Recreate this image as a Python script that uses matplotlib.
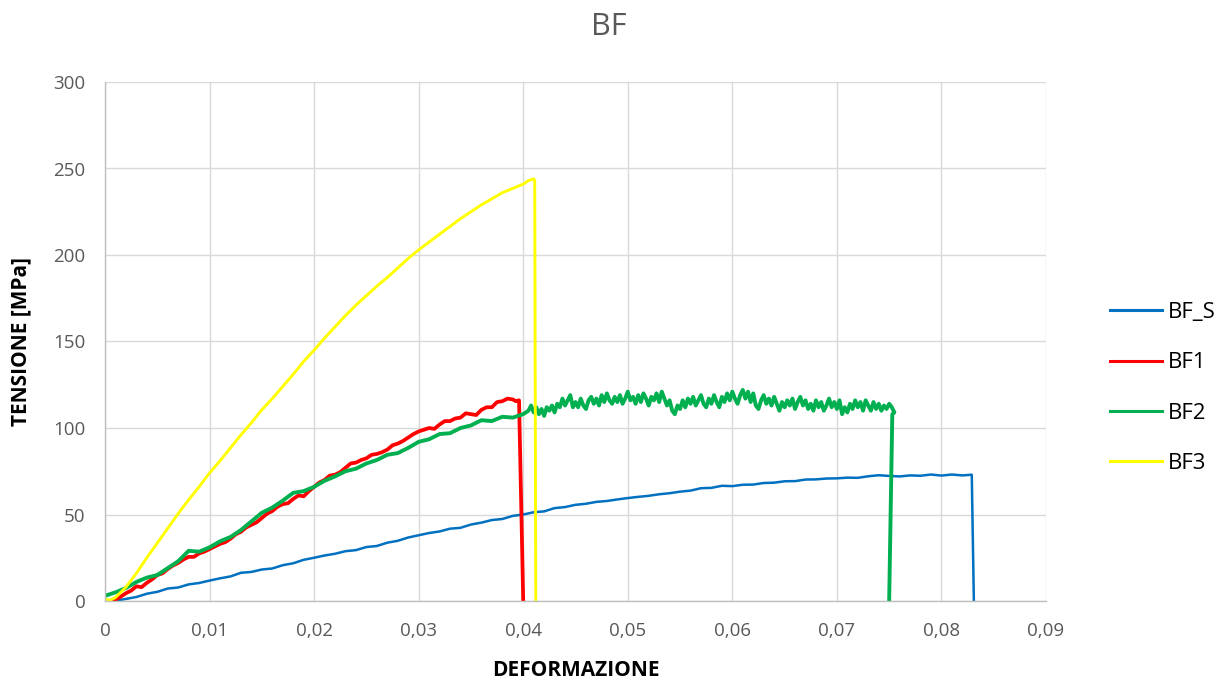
import matplotlib
matplotlib.use("Agg")
import matplotlib.pyplot as plt
from matplotlib.ticker import FuncFormatter

plt.rcParams['font.family'] = ['Open Sans', 'DejaVu Sans']

# ---------------- data ----------------
x_bfs = [0.0008, 0.002, 0.003, 0.004, 0.005, 0.006, 0.007, 0.008, 0.009, 0.010,
         0.011, 0.012, 0.013, 0.014, 0.015, 0.016, 0.017, 0.018, 0.019, 0.020,
         0.021, 0.022, 0.023, 0.024, 0.025, 0.026, 0.027, 0.028, 0.029, 0.030,
         0.031, 0.032, 0.033, 0.034, 0.035, 0.036, 0.037, 0.038, 0.039, 0.040,
         0.041, 0.042, 0.043, 0.044, 0.045, 0.046, 0.047, 0.048, 0.049, 0.050,
         0.051, 0.052, 0.053, 0.054, 0.055, 0.056, 0.057, 0.058, 0.059, 0.060,
         0.061, 0.062, 0.063, 0.064, 0.065, 0.066, 0.067, 0.068, 0.069, 0.070,
         0.071, 0.072, 0.073, 0.074, 0.075, 0.076, 0.077, 0.078, 0.079, 0.080,
         0.081, 0.082, 0.0829, 0.0831]
y_bfs = [0, 1.2, 2.3, 4.2, 5.3, 7.2, 7.8, 9.6, 10.4, 11.8,
         13.1, 14.2, 16.3, 16.8, 18.2, 18.8, 20.7, 21.8, 23.8, 25.0,
         26.3, 27.3, 28.8, 29.4, 31.2, 31.8, 33.7, 34.8, 36.7, 38.0,
         39.3, 40.2, 41.8, 42.3, 44.2, 45.3, 46.8, 47.4, 49.2, 50.0,
         51.3, 51.8, 53.7, 54.3, 55.6, 56.2, 57.3, 57.8, 58.7, 59.5,
         60.2, 60.8, 61.7, 62.3, 63.2, 63.8, 65.2, 65.4, 66.6, 66.4,
         67.2, 67.3, 68.2, 68.4, 69.2, 69.3, 70.2, 70.3, 70.8, 70.9,
         71.3, 71.2, 72.1, 72.7, 72.3, 72.0, 72.6, 72.4, 73.1, 72.5,
         73.1, 72.6, 73.0, 0]

x_bf1 = [0.0008, 0.0015, 0.002, 0.0025, 0.003, 0.0035, 0.004, 0.0045, 0.005, 0.0055,
         0.006, 0.0065, 0.007, 0.0075, 0.008, 0.0085, 0.009, 0.0095, 0.010, 0.0105,
         0.011, 0.0115, 0.012, 0.0125, 0.013, 0.0135, 0.014, 0.0145, 0.015, 0.0155,
         0.016, 0.0165, 0.017, 0.0175, 0.018, 0.0185, 0.019, 0.0195, 0.020, 0.0205,
         0.021, 0.0215, 0.022, 0.0225, 0.023, 0.0235, 0.024, 0.0245, 0.025, 0.0255,
         0.026, 0.0265, 0.027, 0.0275, 0.028, 0.0285, 0.029, 0.0295, 0.030, 0.0305,
         0.031, 0.0315, 0.032, 0.0325, 0.033, 0.0335, 0.034, 0.0345, 0.035, 0.0355,
         0.036, 0.0365, 0.037, 0.0375, 0.038, 0.0385, 0.039, 0.0393, 0.0396, 0.0400]
y_bf1 = [0, 2.5, 4.5, 6.0, 8.5, 8.0, 10.5, 12.5, 15.0, 16.0,
         18.5, 20.5, 22.0, 24.0, 25.5, 25.5, 27.5, 28.5, 30.0, 31.5,
         33.0, 34.0, 36.0, 38.5, 40.0, 42.5, 44.0, 45.5, 48.0, 50.5,
         52.0, 54.5, 56.0, 56.5, 59.0, 61.0, 60.5, 63.5, 66.0, 68.5,
         70.0, 72.5, 73.0, 74.5, 77.0, 79.5, 80.0, 81.5, 82.5, 84.5,
         85.0, 86.0, 87.5, 90.0, 91.0, 92.5, 94.5, 96.5, 98.0, 99.0,
         100.0, 99.5, 102.0, 104.0, 104.0, 105.5, 106.0, 108.5, 108.0, 107.5,
         110.5, 112.0, 112.0, 115.0, 115.5, 117.0, 116.5, 115.5, 116.0, 0]

x_bf2 = [0.0, 0.001, 0.002, 0.003, 0.004, 0.005, 0.006, 0.007, 0.008, 0.009,
         0.010, 0.011, 0.012, 0.013, 0.014, 0.015, 0.016, 0.017, 0.018, 0.019,
         0.020, 0.021, 0.022, 0.023, 0.024, 0.025, 0.026, 0.027, 0.028, 0.029,
         0.030, 0.031, 0.032, 0.033, 0.034, 0.035, 0.036, 0.037, 0.038, 0.039,
         0.040,
         0.04050, 0.04075, 0.04100, 0.04125, 0.04150, 0.04175, 0.04200, 0.04225,
         0.04250, 0.04275, 0.04300, 0.04325, 0.04350, 0.04375, 0.04400, 0.04425,
         0.04450, 0.04475, 0.04500, 0.04525, 0.04550, 0.04575, 0.04600, 0.04625,
         0.04650, 0.04675, 0.04700, 0.04725, 0.04750, 0.04775, 0.04800, 0.04825,
         0.04850, 0.04875, 0.04900, 0.04925, 0.04950, 0.04975, 0.05000, 0.05025,
         0.05050, 0.05075, 0.05100, 0.05125, 0.05150, 0.05175, 0.05200, 0.05225,
         0.05250, 0.05275, 0.05300, 0.05325, 0.05350, 0.05375, 0.05400, 0.05425,
         0.05450, 0.05475, 0.05500, 0.05525, 0.05550, 0.05575, 0.05600, 0.05625,
         0.05650, 0.05675, 0.05700, 0.05725, 0.05750, 0.05775, 0.05800, 0.05825,
         0.05850, 0.05875, 0.05900, 0.05925, 0.05950, 0.05975, 0.06000, 0.06025,
         0.06050, 0.06075, 0.06100, 0.06125, 0.06150, 0.06175, 0.06200, 0.06225,
         0.06250, 0.06275, 0.06300, 0.06325, 0.06350, 0.06375, 0.06400, 0.06425,
         0.06450, 0.06475, 0.06500, 0.06525, 0.06550, 0.06575, 0.06600, 0.06625,
         0.06650, 0.06675, 0.06700, 0.06725, 0.06750, 0.06775, 0.06800, 0.06825,
         0.06850, 0.06875, 0.06900, 0.06925, 0.06950, 0.06975, 0.07000, 0.07025,
         0.07050, 0.07075, 0.07100, 0.07125, 0.07150, 0.07175, 0.07200, 0.07225,
         0.07250, 0.07275, 0.07300, 0.07325, 0.07350, 0.07375, 0.07400, 0.07425,
         0.07450, 0.07475, 0.07500, 0.07525, 0.07550,
         0.0753, 0.0750]
y_bf2 = [3.0, 5.0, 7.5, 11.0, 13.5, 15.0, 19.0, 23.0, 29.0, 28.5,
         31.0, 34.5, 37.0, 41.0, 46.0, 51.0, 54.0, 58.0, 62.5, 63.5,
         66.0, 69.5, 72.0, 75.0, 76.5, 79.5, 81.5, 84.5, 85.5, 88.5,
         92.0, 93.5, 96.5, 97.0, 100.0, 101.5, 104.5, 104.0, 106.5, 106.0,
         108.0,
         110, 113, 109, 112, 108, 111, 107, 112,
         110, 113, 109, 114, 112, 117, 113, 116,
         119, 112, 115, 112, 117, 113, 111, 116,
         118, 114, 117, 113, 119, 115, 120, 116,
         114, 118, 115, 119, 114, 117, 121, 116,
         118, 114, 119, 115, 120, 117, 113, 118,
         116, 120, 115, 121, 117, 113, 116, 110,
         108, 113, 111, 116, 112, 117, 114, 118,
         113, 116, 119, 114, 112, 117, 114, 119,
         115, 112, 118, 115, 120, 116, 121, 117,
         114, 119, 122, 117, 121, 115, 120, 113,
         111, 116, 119, 114, 117, 113, 118, 114,
         110, 115, 112, 116, 113, 117, 111, 115,
         118, 113, 116, 111, 114, 110, 116, 112,
         115, 110, 113, 117, 112, 115, 111, 116,
         108, 112, 109, 114, 111, 116, 112, 115,
         110, 116, 113, 110, 115, 111, 114, 110,
         113, 111, 114, 112, 109,
         108, 0]

x_bf3 = [0.0, 0.0005, 0.001, 0.0015, 0.002, 0.003, 0.004, 0.005, 0.006, 0.007,
         0.008, 0.009, 0.010, 0.011, 0.012, 0.013, 0.014, 0.015, 0.016, 0.017,
         0.018, 0.019, 0.020, 0.021, 0.022, 0.023, 0.024, 0.025, 0.026, 0.027,
         0.028, 0.029, 0.030, 0.031, 0.032, 0.033, 0.034, 0.035, 0.036, 0.037,
         0.038, 0.039, 0.040, 0.0405, 0.041, 0.0411, 0.0412]
y_bf3 = [1.0, 0.5, 2.0, 5.0, 8.0, 16.0, 25.0, 33.5, 42.0, 50.5,
         58.5, 66.0, 74.0, 81.0, 88.5, 96.0, 103.0, 110.5, 117.0, 124.0,
         131.0, 138.5, 145.0, 152.0, 158.5, 165.0, 171.0, 176.5, 182.0, 187.0,
         192.5, 198.0, 203.0, 207.5, 212.0, 216.5, 221.0, 225.0, 229.0, 232.5,
         236.0, 238.5, 241.0, 243.0, 244.0, 243.0, 0]

series_names = ["BF_S", "BF1", "BF2", "BF3"]
series_colors = ["#0070C0", "#FF0000", "#00B050", "#FFFF00"]

x_ticks = [0, 0.01, 0.02, 0.03, 0.04, 0.05, 0.06, 0.07, 0.08, 0.09]
y_ticks = [0, 50, 100, 150, 200, 250, 300]

# ---------------- figure ----------------
W, H = 1227, 684
fig = plt.figure(figsize=(W / 100, H / 100), dpi=100)
ax = fig.add_axes([105 / W, 1 - 601 / H, (1046 - 105) / W, (601 - 82) / H])

data = [(x_bfs, y_bfs), (x_bf1, y_bf1), (x_bf2, y_bf2), (x_bf3, y_bf3)]
widths = [1.8, 2.7, 2.8, 2.1]
for (xs, ys), name, col, lw in zip(data, series_names, series_colors, widths):
    ax.plot(xs, ys, color=col, lw=lw, label=name, solid_joinstyle='round')

ax.set_xlim(x_ticks[0], x_ticks[-1])
ax.set_ylim(y_ticks[0], y_ticks[-1])
ax.set_xticks(x_ticks)
ax.set_yticks(y_ticks)
ax.xaxis.set_major_formatter(FuncFormatter(lambda v, p: "0" if v == 0 else f"{v:.2f}".replace(".", ",")))
ax.yaxis.set_major_formatter(FuncFormatter(lambda v, p: f"{v:.0f}"))

ax.grid(True, color="#D9D9D9", lw=1.0)
ax.set_axisbelow(True)
for s in ["top", "right"]:
    ax.spines[s].set_visible(False)
for s in ["left", "bottom"]:
    ax.spines[s].set_color("#BFBFBF")
    ax.spines[s].set_linewidth(1.0)
ax.tick_params(axis="both", length=0, labelsize=13.5, labelcolor="#595959")
ax.tick_params(axis="x", pad=15)
ax.tick_params(axis="y", pad=14)

fig.text(576 / W, 1 - 671 / H, "DEFORMAZIONE", ha="center", va="center",
         fontsize=15, fontweight="bold", color="#000000")
fig.text(21 / W, 1 - 341 / H, "TENSIONE [MPa]", ha="center", va="center",
         rotation=90, fontsize=15, fontweight="bold", color="#000000")
fig.text(609 / W, 1 - 27 / H, "BF", ha="center", va="center", fontsize=22, color="#595959")

leg = fig.legend(loc="center left", bbox_to_anchor=(1110 / W, 1 - 388 / H),
                 bbox_transform=fig.transFigure, frameon=False, fontsize=16,
                 borderaxespad=0, borderpad=0,
                 handlelength=2.35, handletextpad=0.27, labelspacing=1.32)
for line in leg.get_lines():
    line.set_linewidth(2.2)

fig.savefig("out.png", dpi=100)
